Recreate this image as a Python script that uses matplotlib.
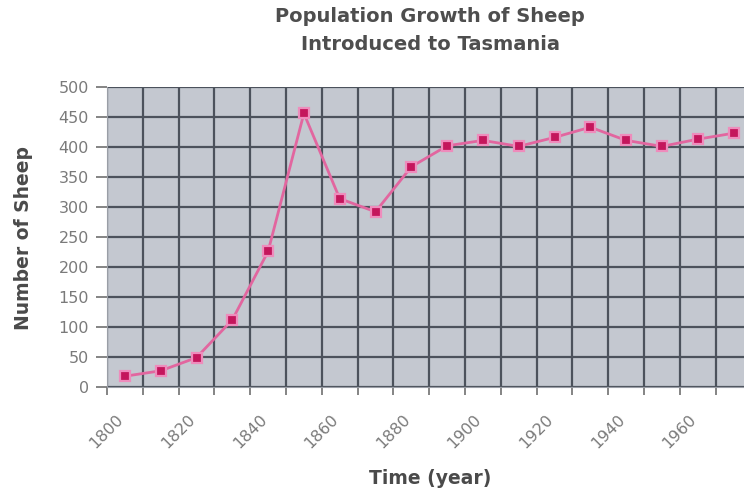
import matplotlib
matplotlib.use("Agg")
import matplotlib.pyplot as plt
import matplotlib.transforms as mtransforms
import numpy as np

years = [1800, 1810, 1820, 1830, 1840, 1850, 1860, 1870, 1880, 1890,
         1900, 1910, 1920, 1930, 1940, 1950, 1960, 1970]
sheep = [18, 27, 49, 112, 226, 456, 314, 292, 367, 402,
         411, 401, 416, 433, 411, 401, 413, 423]
tick_labels = ['1800', '1820', '1840', '1860', '1880', '1900', '1920', '1940', '1960']

plt.rcParams['font.family'] = ['DejaVu Sans']

W, H = 744, 493
fig = plt.figure(figsize=(W / 100, H / 100), dpi=100)
fig.patch.set_facecolor('white')

left = 107 / W
bottom = (H - 387) / H
height = 300 / H
width = 18 * 35.8 / W
ax = fig.add_axes([left, bottom, width, height])
ax.set_facecolor('#c4c8d0')

x = np.arange(len(years))
ax.set_xlim(-0.5, len(years) - 0.5)
ax.set_ylim(0, 500)

# grid at category boundaries
ax.set_xticks(np.arange(-0.5, len(years)), minor=True)
ax.set_xticks(np.arange(0, len(years), 2)[:len(tick_labels)])
ax.set_xticklabels(tick_labels, rotation=45, ha='right', rotation_mode='anchor',
                   color='#7a7a7a', fontsize=11.5)
ax.tick_params(axis='x', which='major', length=0, pad=18)
ax.tick_params(axis='x', which='minor', length=6, color='#707070', width=1.2)
ax.grid(True, axis='x', which='minor', color='#4c525c', lw=1.6)
offset = mtransforms.ScaledTranslation(-9 / 100, 0, fig.dpi_scale_trans)
for lab in ax.get_xticklabels():
    lab.set_transform(lab.get_transform() + offset)

ax.set_yticks(np.arange(0, 501, 50))
ax.tick_params(axis='y', which='major', length=8, color='#707070', width=1.2,
               labelcolor='#7a7a7a', labelsize=11.5, pad=5)
ax.grid(True, axis='y', which='major', color='#4c525c', lw=1.6)
ax.set_axisbelow(True)

for s in ['top', 'right']:
    ax.spines[s].set_visible(False)
ax.spines['left'].set_color('#9a9ea6')
ax.spines['bottom'].set_color('#9a9ea6')

ax.plot(x, sheep, color='#e2669f', lw=2.0, zorder=3, clip_on=False)
ax.plot(x, sheep, linestyle='none', marker='s', markersize=7.5,
        markerfacecolor='#c4165c', markeredgecolor='#ee8cbc', markeredgewidth=1.6,
        zorder=4, clip_on=False)

fig.text(430 / W, 1 - 17 / H, 'Population Growth of Sheep', ha='center', va='center',
         fontsize=14, fontweight='bold', color='#4e4e4e')
fig.text(430 / W, 1 - 45 / H, 'Introduced to Tasmania', ha='center', va='center',
         fontsize=14, fontweight='bold', color='#4e4e4e')
fig.text(24 / W, 1 - 238 / H, 'Number of Sheep', ha='center', va='center',
         rotation=90, fontsize=13.5, fontweight='bold', color='#4a4a4a')
fig.text(430 / W, 1 - 478 / H, 'Time (year)', ha='center', va='center',
         fontsize=13.5, fontweight='bold', color='#4a4a4a')

fig.savefig('out.png', dpi=100)
